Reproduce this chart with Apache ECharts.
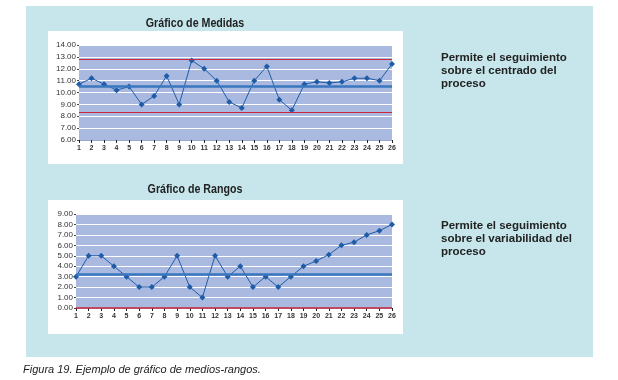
<!DOCTYPE html>
<html><head><meta charset="utf-8">
<script src="https://cdn.jsdelivr.net/npm/echarts@6/dist/echarts.min.js"></script>
<style>html,body{margin:0;padding:0;background:#fff}#c{width:618px;height:380px}</style>
</head><body><div id="c"></div>
<script>
const categories = ['1','2','3','4','5','6','7','8','9','10','11','12','13','14','15','16','17','18','19','20','21','22','23','24','25','26'];
const medidas = [10.7,11.2,10.7,10.2,10.5,9.0,9.7,11.4,9.0,12.7,12.0,11.0,9.2,8.7,11.0,12.2,9.4,8.5,10.7,10.9,10.8,10.9,11.2,11.2,11.0,12.4];
const rangos = [3,5,5,4,3,2,2,3,5,2,1,5,3,4,2,3,2,3,4,4.5,5.1,6.0,6.3,7.0,7.4,8.0];
const medidasCentro = 10.5, medidasLSC = 12.8, medidasLIC = 8.3;
const rangosCentro = 3.2, rangosLIC = 0;
const titulo1 = 'Gráfico de Medidas', titulo2 = 'Gráfico de Rangos';
const nota1 = 'Permite el seguimiento\nsobre el centrado del\nproceso';
const nota2 = 'Permite el seguimiento\nsobre el variabilidad del\nproceso';
const pie = 'Figura 19. Ejemplo de gráfico de medios-rangos.';

const FONT = '"Liberation Sans", Arial, sans-serif';
const chart = echarts.init(document.getElementById('c'), null, {renderer:'canvas'});

function xAx(gi){
  return {type:'category', gridIndex:gi, data:categories, boundaryGap:false,
    axisLine:{show:true, lineStyle:{color:'#9aa8d0', width:1}},
    axisTick:{show:true, length:3, lineStyle:{color:'#222'}},
    axisLabel:{fontSize:7, color:'#333', fontFamily:FONT, fontWeight:'bold', margin:5},
    splitLine:{show:false}};
}
function yAx(gi,min,max){
  return {type:'value', gridIndex:gi, min:min, max:max, interval:1,
    axisLine:{show:false},
    axisTick:{show:true, length:2, lineStyle:{color:'#444'}},
    axisLabel:{fontSize:8, color:'#333', fontFamily:FONT, margin:3, formatter:v=>v.toFixed(2)},
    splitLine:{show:true, lineStyle:{color:'#ffffff', width:1.2}}};
}
function ml(vals){
  return {silent:true, symbol:'none', label:{show:false},
    data: vals.map(v=>({yAxis:v[0], lineStyle:{color:v[1], width:v[2], type:'solid'}}))};
}
const lineSeries = (xi, data, marks)=>({type:'line', xAxisIndex:xi, yAxisIndex:xi, data:data,
  symbol:'diamond', symbolSize:6, showSymbol:true,
  lineStyle:{color:'#1f5ca8', width:1}, itemStyle:{color:'#1f5ca8'},
  markLine: ml(marks), z:3});

chart.setOption({
  animation:false,
  graphic:[
    {type:'rect', shape:{x:26,y:6,width:567,height:351}, style:{fill:'#c6e6eb'}, z:-10},
    {type:'rect', shape:{x:48,y:31,width:355,height:133}, style:{fill:'#ffffff'}, z:-9},
    {type:'rect', shape:{x:48,y:200,width:355,height:134}, style:{fill:'#ffffff'}, z:-9},
    {type:'text', x:195, y:23, scaleX:0.82, style:{text:titulo1, font:'bold 13px '+FONT, fill:'#222', align:'center', verticalAlign:'middle'}},
    {type:'text', x:195, y:189, scaleX:0.82, style:{text:titulo2, font:'bold 13px '+FONT, fill:'#222', align:'center', verticalAlign:'middle'}},
    {type:'text', left:441, top:51, style:{text:nota1, font:'bold 11.5px '+FONT, fill:'#222', lineHeight:13}},
    {type:'text', left:441, top:219, style:{text:nota2, font:'bold 11.5px '+FONT, fill:'#222', lineHeight:13}},
    {type:'text', left:23, top:364, style:{text:pie, font:'italic 11px '+FONT, fill:'#222'}}
  ],
  grid:[
    {left:79, top:45, width:313, height:95, show:true, backgroundColor:'#a9b9df', borderWidth:0},
    {left:76, top:214, width:316, height:94, show:true, backgroundColor:'#a9b9df', borderWidth:0}
  ],
  xAxis:[xAx(0), xAx(1)],
  yAxis:[yAx(0,6,14), yAx(1,0,9)],
  series:[
    lineSeries(0, medidas, [[medidasCentro,'#3a76bd',2.5],[medidasLSC,'#c8283a',1],[medidasLIC,'#c8283a',1]]),
    lineSeries(1, rangos, [[rangosCentro,'#3a76bd',2.5],[rangosLIC,'#c8283a',1.5]])
  ]
});
</script></body></html>
